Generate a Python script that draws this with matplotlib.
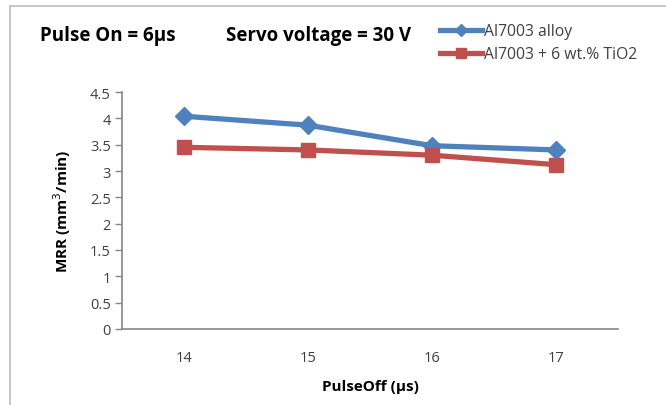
import matplotlib.pyplot as plt
from matplotlib.lines import Line2D

pulse_off = [14, 15, 16, 17]
mrr_alloy = [4.04, 3.87, 3.48, 3.40]
mrr_tio2 = [3.45, 3.40, 3.30, 3.12]
yticks = [0, 0.5, 1, 1.5, 2, 2.5, 3, 3.5, 4, 4.5]

blue = '#4F81BD'
red = '#C0504D'
grey = '#868686'
txt = '#404040'

plt.rcParams['font.family'] = ['Open Sans', 'DejaVu Sans']

fig = plt.figure(figsize=(6.66, 4.06), dpi=100)
ax = fig.add_axes([122/666, 76/406, 496/666, 237/406])

ax.plot(pulse_off, mrr_alloy, color=blue, lw=3.8, marker='D', ms=9, label='Al7003 alloy')
ax.plot(pulse_off, mrr_tio2, color=red, lw=3.8, marker='s', ms=10, label='Al7003 + 6 wt.% TiO2')

ax.set_xlim(13.5, 17.5)
ax.set_ylim(0, 4.5)
ax.set_xticks(pulse_off)
ax.set_xticklabels([str(v) for v in pulse_off])
ax.set_yticks(yticks)
ax.set_yticklabels(['%g' % v for v in yticks])
ax.tick_params(axis='x', length=0, pad=15, labelsize=10.5, labelcolor=txt)
ax.tick_params(axis='y', length=5, width=1, color=grey, pad=3, labelsize=10.5, labelcolor=txt)
for s in ['top', 'right']:
    ax.spines[s].set_visible(False)
for s in ['left', 'bottom']:
    ax.spines[s].set_color(grey)
    ax.spines[s].set_linewidth(1.2)

ax.set_xlabel('PulseOff (µs)', fontsize=11, fontweight='bold', labelpad=10)
ax.set_ylabel('MRR (mm$^3$/min)', fontsize=11, fontweight='bold', labelpad=12)

fig.text(40/666, 1 - 36/406, 'Pulse On = 6µs', fontsize=13.5, fontweight='bold', va='center')
fig.text(226/666, 1 - 36/406, 'Servo voltage = 30 V', fontsize=13.5, fontweight='bold', va='center')

handles = [Line2D([], [], color=blue, lw=3.8, marker='D', ms=6),
           Line2D([], [], color=red, lw=3.8, marker='s', ms=7)]
fig.legend(handles, ['Al7003 alloy', 'Al7003 + 6 wt.% TiO2'], loc='upper left',
           bbox_to_anchor=(440/666, 1 - 24/406), frameon=False, fontsize=11.3,
           handlelength=2.7, handletextpad=0.1, labelspacing=0.45, borderpad=0,
           borderaxespad=0, labelcolor=txt)

# outer chart border
fig.add_artist(Line2D([10/666, 10/666], [0, 1 - 7/406], color='#BFBFBF', lw=1.2))
fig.add_artist(Line2D([10/666, 1], [1 - 7/406, 1 - 7/406], color='#BFBFBF', lw=1.2))

fig.savefig('out.png', dpi=100)
